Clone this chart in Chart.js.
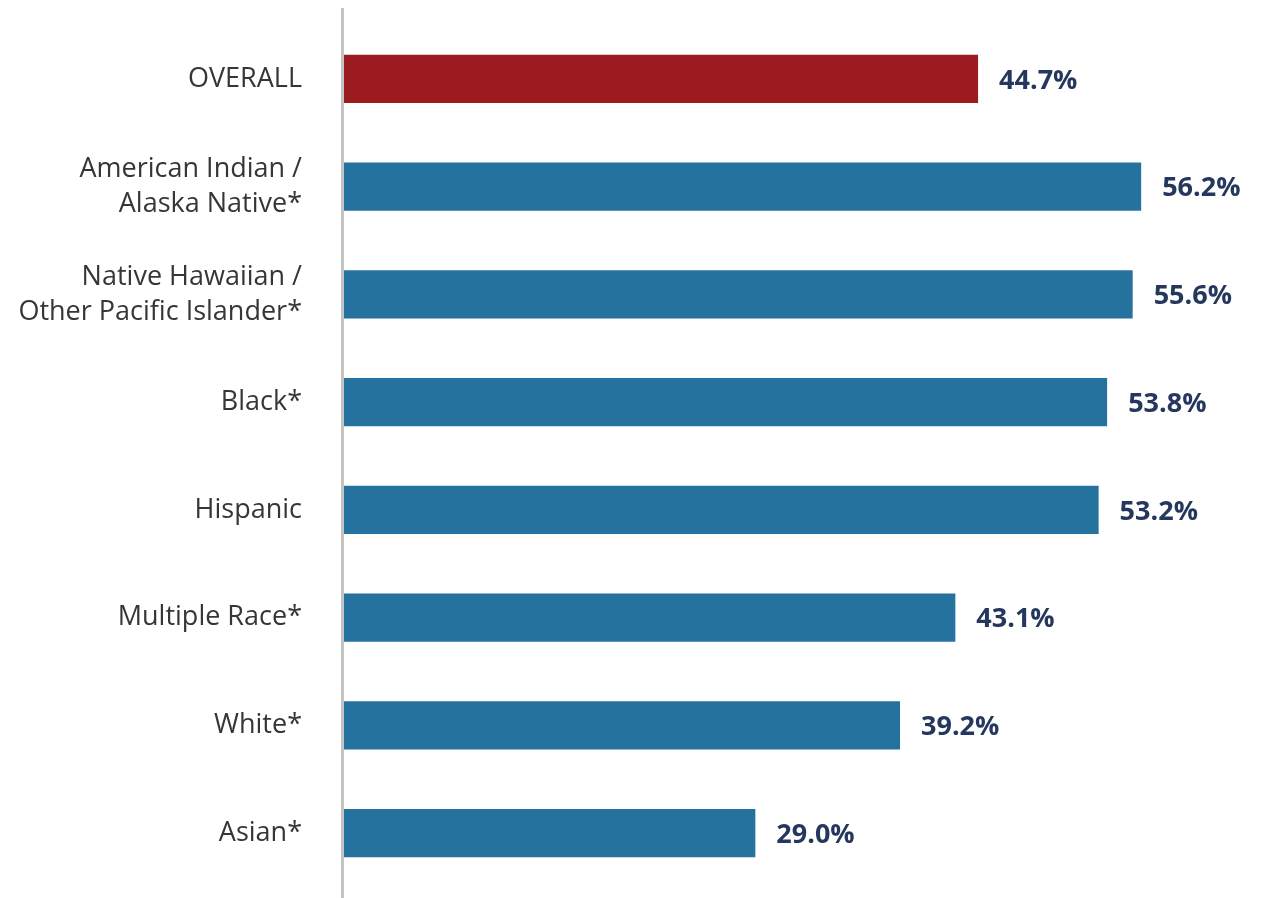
<!DOCTYPE html>
<html lang="en">
<head>
    <meta charset="UTF-8">
    <title>Share by race / ethnicity</title>
    <script src="https://cdn.jsdelivr.net/npm/chart.js"></script>
    <style>
        html, body { margin: 0; padding: 0; background: #fff; }
        #wrap { width: 1266px; height: 898px; position: relative; }
    </style>
</head>
<body>
    <div id="wrap"><canvas id="myChart"></canvas></div>

    <script>
        // data
        const categories = [
            'OVERALL',
            ['American Indian /', 'Alaska Native*'],
            ['Native Hawaiian /', 'Other Pacific Islander*'],
            'Black*',
            'Hispanic',
            'Multiple Race*',
            'White*',
            'Asian*'
        ];
        const values = [44.7, 56.2, 55.6, 53.8, 53.2, 43.1, 39.2, 29.0];
        const barColors = ['#9b1b21', '#26729f', '#26729f', '#26729f', '#26729f', '#26729f', '#26729f', '#26729f'];

        // grey axis line, a bit taller than the plot area
        const axisLine = {
            id: 'axisLine',
            beforeDatasetsDraw(chart) {
                const c = chart.ctx, a = chart.chartArea;
                c.save();
                c.strokeStyle = '#c4c4c4';
                c.lineWidth = 3;
                c.beginPath();
                c.moveTo(a.left - 1.5, a.top - 17);
                c.lineTo(a.left - 1.5, chart.height);
                c.stroke();
                c.restore();
            }
        };

        // percentage labels to the right of each bar
        const valueLabels = {
            id: 'valueLabels',
            afterDatasetsDraw(chart) {
                const c = chart.ctx;
                const meta = chart.getDatasetMeta(0);
                c.save();
                c.font = 'bold 27px "Open Sans", sans-serif';
                c.fillStyle = '#25375c';
                c.textBaseline = 'middle';
                meta.data.forEach((bar, i) => {
                    c.fillText(values[i].toFixed(1) + '%', bar.x + 21, bar.y + 2);
                });
                c.restore();
            }
        };

        const ctx = document.getElementById('myChart').getContext('2d');
        const myChart = new Chart(ctx, {
            type: 'bar',
            data: {
                labels: categories,
                datasets: [{
                    data: values,
                    backgroundColor: barColors,
                    borderWidth: 0,
                    barPercentage: 0.9,
                    categoryPercentage: 0.496
                }]
            },
            options: {
                indexAxis: 'y',
                responsive: true,
                maintainAspectRatio: false,
                animation: false,
                layout: { padding: { top: 25, bottom: 11, right: 0, left: 0 } },
                plugins: {
                    legend: { display: false },
                    tooltip: { enabled: false }
                },
                scales: {
                    x: {
                        display: false,
                        min: 0,
                        max: 65
                    },
                    y: {
                        grid: { display: false },
                        border: { display: false },
                        afterFit: s => {
                            s.width = 344;
                            s.paddingTop = 0;
                            s.paddingBottom = 0;
                        },
                        ticks: {
                            color: '#363636',
                            padding: 34,
                            font: { family: '"Open Sans", sans-serif', size: 27, lineHeight: 1.3 }
                        }
                    }
                }
            },
            plugins: [axisLine, valueLabels]
        });
    </script>
</body>
</html>
